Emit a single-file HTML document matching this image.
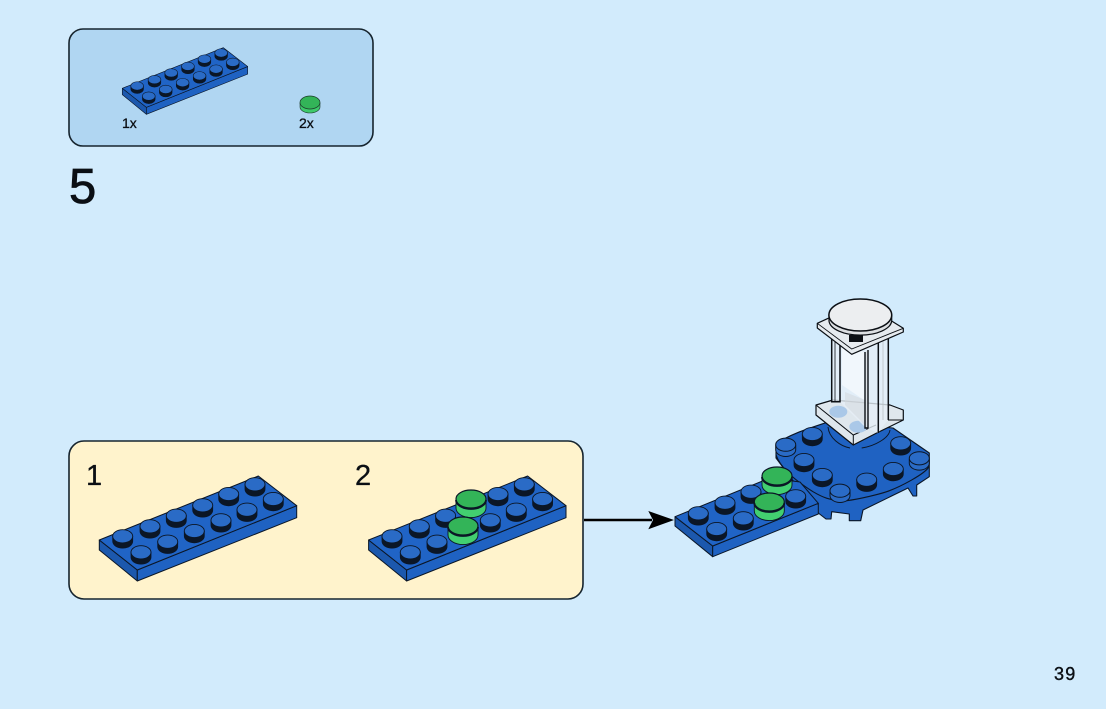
<!DOCTYPE html>
<html><head><meta charset="utf-8"><style>
html,body{margin:0;padding:0;background:#d2ebfc}
svg{display:block}
text{font-family:"Liberation Sans",sans-serif;fill:#0b0f14;stroke:#0b0f14;stroke-width:.3}
</style></head><body>
<svg width="1106" height="709" viewBox="0 0 1106 709" xmlns="http://www.w3.org/2000/svg">
<defs>
<g id="s"><path d="M-10 -1V4A10 6.8 0 0 0 10 4V-1Z" fill="#0b1626" stroke="#0b1626" stroke-width=".8"/><ellipse cy="-1" rx="10" ry="6.6" fill="#2a6bc6" stroke="#0b1626" stroke-width=".9"/></g>
<g id="h"><path d="M-10 0V4A10 6.8 0 0 0 10 4V0Z" fill="#2a6bc6" stroke="#0b1626" stroke-width="1"/><ellipse cy="-1" rx="10" ry="6.6" fill="#2a6bc6" stroke="#0b1626" stroke-width="1"/></g>
<g id="g"><path d="M-15 0V8A15 9.6 0 0 0 15 8V0Z" fill="#42cf70" stroke="#0b1626" stroke-width=".9"/><ellipse cy="-1" rx="15" ry="9" fill="#33b458" stroke="#0b1626" stroke-width="1.2"/><path d="M-15 0A15 9 0 0 0 15 0" fill="none" stroke="#0b1626" stroke-width="1.8"/></g>
<g id="p">
<path d="M99.3 540L137.3 570V581L99.3 550Z" fill="#1c58ad" stroke="#0b1626" stroke-width="1" stroke-linejoin="round"/>
<path d="M137.3 570L296.7 505.7V517.7L137.3 581Z" fill="#1f62c2" stroke="#0b1626" stroke-width="1" stroke-linejoin="round"/>
<path d="M99.3 540L258.3 476L296.7 505.7L137.3 570Z" fill="#2064c6" stroke="#0b1626" stroke-width="1" stroke-linejoin="round"/>
</g>
<g id="st">
<use href="#s" x="122.7" y="537.3"/><use href="#s" x="150" y="527.3"/><use href="#s" x="176.3" y="516.7"/><use href="#s" x="202.7" y="506.3"/><use href="#s" x="228.7" y="495"/><use href="#s" x="255" y="485.3"/>
<use href="#s" x="141" y="553.3"/><use href="#s" x="167.7" y="542.7"/><use href="#s" x="194.3" y="532"/><use href="#s" x="221" y="521.3"/><use href="#s" x="247" y="510.7"/><use href="#s" x="273.3" y="500"/>
</g>
</defs>
<rect width="1106" height="709" fill="#d2ebfc"/>

<rect x="69" y="29" width="304" height="117" rx="14" fill="#b0d6f2" stroke="#16242e" stroke-width="1.6"/>
<g transform="translate(59.24,-254.6) scale(.635)"><use href="#p"/><use href="#st"/></g>
<path d="M300 103V107A10 6 0 0 0 320 107V103Z" fill="#3ec96b" stroke="#1c3a2a" stroke-width=".6"/>
<ellipse cx="310" cy="102.5" rx="10" ry="6.5" fill="#33b458" stroke="#1c3a2a" stroke-width=".7"/>
<text x="122" y="128" font-size="14">1x</text>
<text x="299" y="128" font-size="14">2x</text>
<text x="69" y="203" font-size="49" style="stroke-width:.8">5</text>

<rect x="69" y="441" width="514" height="158" rx="15" fill="#fff3cc" stroke="#16242e" stroke-width="1.6"/>
<text x="86" y="485" font-size="29">1</text>
<text x="355" y="485" font-size="29">2</text>
<use href="#p"/><use href="#st"/>
<g transform="translate(269.3,0)"><use href="#p"/><use href="#st"/></g>
<use href="#g" x="471" y="500"/>
<use href="#g" x="463" y="527"/>

<path d="M584 520H652" stroke="#000" stroke-width="2.6"/>
<path d="M648.3 511L674 520L648.3 529.3L653 520Z" fill="#000"/>

<!-- assembled base -->
<path d="M776 444C790 434 810 428 828 422L893 428L929.3 453V476.7L916.7 485V496L913 496L908 488L863 510L860.7 520.7L849.3 520.7V514L831.7 511.7L831 519H826L818.3 513L800 490L776 458Z" fill="#1f62c2" stroke="#0b1626" stroke-width="1.1" stroke-linejoin="round"/>
<path d="M776 455C780 466 790 477 813 491.7C822 497 830 501 846.7 500.7C860 499 880 494 886.7 491.7C900 487 925 474 929 466.7" fill="none" stroke="#0b1626" stroke-width="1.1"/>
<path d="M828 427C829 438 840 446 850 448M861.7 448C875 446 889 438 890 430" fill="none" stroke="#0b1626" stroke-width="1"/>
<use href="#s" x="812.3" y="435"/><use href="#s" x="804" y="461"/><use href="#s" x="822.3" y="476"/><use href="#s" x="866.7" y="480.7"/><use href="#s" x="893.3" y="470"/><use href="#s" x="900.7" y="444.3"/>
<use href="#h" x="785.7" y="445.7"/><use href="#h" x="919.3" y="459.3"/><use href="#h" x="840" y="491.7"/>

<!-- plate on left -->
<path d="M675 516.7L712.7 546V556.7L675 526Z" fill="#1c58ad" stroke="#0b1626" stroke-width="1" stroke-linejoin="round"/>
<path d="M712.7 546L818.3 503.3V514L712.7 556.7Z" fill="#1f62c2" stroke="#0b1626" stroke-width="1" stroke-linejoin="round"/>
<path d="M675 516.7L770 478L800 482L818.3 503.3L712.7 546Z" fill="#2064c6" stroke="#0b1626" stroke-width="1" stroke-linejoin="round"/>
<use href="#s" x="698.3" y="514.3"/><use href="#s" x="725" y="503.7"/><use href="#s" x="751" y="492.7"/><use href="#s" x="716.7" y="530"/><use href="#s" x="743.3" y="519.3"/><use href="#s" x="795.7" y="497.3"/>
<use href="#g" x="777" y="477"/>
<use href="#g" x="769.3" y="503"/>

<!-- column bottom plate -->
<path d="M816 405L833 400L890 405L903.3 410V420L876.7 433L853.3 445L816 415Z" fill="#dfe7ed" stroke="#0b0f14" stroke-width="1.2" stroke-linejoin="round"/>
<path d="M816 405L853.3 435L876 425" fill="none" stroke="#0b0f14" stroke-width="1"/>
<path d="M853.3 435V445M888 420H903.3" stroke="#0b0f14" stroke-width="1" fill="none"/>
<ellipse cx="838.3" cy="411.7" rx="9" ry="6" fill="#aac8e8"/>
<ellipse cx="858.3" cy="426.7" rx="9" ry="6" fill="#aac8e8"/>
<!-- column shaft -->
<path d="M832 340H888V420L878 433L866 428L840 402H832Z" fill="#e6eff6" opacity=".8"/>
<path d="M842 345L864 352V400L842 385Z" fill="#fff" opacity=".5"/>
<path d="M845 392L865 400V425L845 405Z" fill="#d4d9dd" opacity=".55"/>
<path d="M831.7 337V401.7L840 401.7V340" fill="none" stroke="#0b0f14" stroke-width="1.5"/>
<path d="M835 340V401" stroke="#0b0f14" stroke-width=".8"/>
<path d="M865 352V428L868 428V350" fill="#dfe5e9" stroke="#0b0f14" stroke-width="1.4"/>
<path d="M878.3 342V433M888.3 338V420" stroke="#0b0f14" stroke-width="1.5" fill="none"/>
<path d="M883 340V420" stroke="#b9c0c5" stroke-width=".8"/>
<!-- top square plate -->
<path d="M817.3 323.3L831.7 316.7L890 320L903.3 328.3V332L851.7 354.3L817.3 328Z" fill="#e6ebef" stroke="#0b0f14" stroke-width="1.2" stroke-linejoin="round"/>
<path d="M817.3 323.3L851.7 349L903.3 328.3" fill="none" stroke="#0b0f14" stroke-width=".9"/>
<path d="M829 315V321A31.4 15 0 0 0 891.7 321V315Z" fill="#dcdfe2" stroke="#0b0f14" stroke-width="1.2"/>
<ellipse cx="860.3" cy="315" rx="31.4" ry="16" fill="#eceef0" stroke="#0b0f14" stroke-width="1.5"/>
<rect x="849" y="335" width="14" height="7" fill="#0b0f14"/>

<text x="1054" y="680" font-size="18" letter-spacing="1.2" style="stroke-width:.4">39</text>
</svg>
</body></html>
